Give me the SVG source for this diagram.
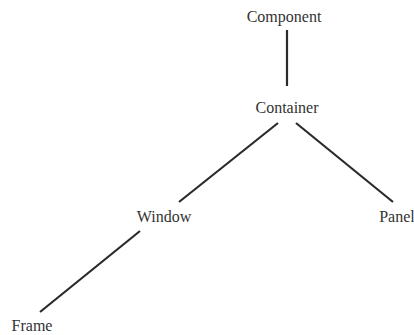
<svg xmlns="http://www.w3.org/2000/svg" width="414" height="335" viewBox="0 0 414 335">
<style>
.lbl{font-family:"Liberation Serif","DejaVu Serif",serif;font-size:16px;fill:#333;text-anchor:middle}
.edge{stroke:#2a2a2a;stroke-width:2.2;fill:none;stroke-linecap:butt}
</style>
<rect width="414" height="335" fill="#fff"/>
<g id="connectors">
<line class="edge" x1="287" y1="30" x2="287" y2="86"/>
<line class="edge" x1="278" y1="123" x2="179" y2="202"/>
<line class="edge" x1="296" y1="123" x2="393" y2="202"/>
<line class="edge" x1="140" y1="231" x2="40" y2="312"/>
</g>
<g id="component"><text class="lbl" x="284" y="22">Component</text></g>
<g id="container"><text class="lbl" x="287" y="113">Container</text></g>
<g id="window"><text class="lbl" x="164" y="222">Window</text></g>
<g id="panel"><text class="lbl" x="397" y="222">Panel</text></g>
<g id="frame"><text class="lbl" x="32" y="331">Frame</text></g>
</svg>
